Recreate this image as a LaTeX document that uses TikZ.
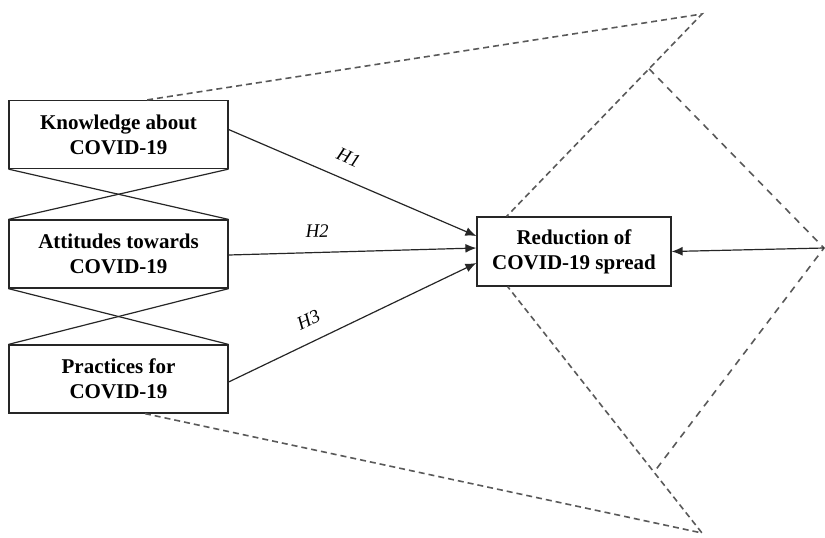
\documentclass[tikz,border=0pt]{standalone}
\usepackage{fontspec}
\setmainfont{Liberation Serif}
\usepackage{tikz}
\usetikzlibrary{positioning,arrows.meta,calc}
\definecolor{frame}{gray}{0.15}
\definecolor{dash}{gray}{0.35}

\begin{document}
\begin{tikzpicture}[x=0.5pt, y=-0.5pt,
  box/.style={draw=frame, semithick, align=center, font=\bfseries\fontsize{10.5}{12.5}\selectfont, minimum width=109.5pt, minimum height=34pt, inner sep=0pt},
  path/.style={draw=frame, semithick, -{Latex[length=5.5pt, width=4.5pt]}},
  hyp/.style={font=\itshape\fontsize{9.5}{11}\selectfont, above=4pt, sloped},
  outline/.style={draw=dash, line width=0.8pt, dash pattern=on 3pt off 2pt},
  outer/.style={draw=dash, line width=0.8pt, dash pattern=on 3.5pt off 3pt}]
  \useasboundingbox (0,0) rectangle (825,537);
  % constructs
  \node[box] (know) at (118.5,134.5) {Knowledge about\\COVID-19};
  \node[box] (att) at (118.5,254) {Attitudes towards\\COVID-19};
  \node[box] (prac) at (118.5,379) {Practices for\\COVID-19};
  \node[box, minimum width=97pt, minimum height=34.5pt] (red) at (574,251.5) {Reduction of\\COVID-19 spread};
  % crossings between constructs
  \draw[frame, semithick] (know.south west) -- (att.north east);
  \draw[frame, semithick] (know.south east) -- (att.north west);
  \draw[frame, semithick] (att.south west) -- (prac.north east);
  \draw[frame, semithick] (att.south east) -- (prac.north west);
  % hypotheses
  \draw[path] ([yshift=2.5pt]know.east) -- node[hyp, pos=0.45] {H1} ([yshift=7.75pt]red.west);
  \draw[path] ([yshift=-0.5pt]att.east) -- node[hyp, pos=0.36] {H2} ([yshift=1.75pt]red.west);
  \draw[path] ([yshift=-1.5pt]prac.east) -- node[hyp, pos=0.36] {H3} ([yshift=-5.75pt]red.west);
  % dashed outline
  \coordinate (topapex) at (702,14);
  \coordinate (botapex) at (702,533);
  \coordinate (redtop) at ($(red.north west)!0.155!(red.north east)$);
  \coordinate (redbot) at ($(red.south west)!0.16!(red.south east)$);
  \draw[outline] ($(know.north west)!0.63!(know.north east)$) -- (topapex) -- (redtop);
  \draw[outline] ($(prac.south west)!0.62!(prac.south east)$) -- (botapex) -- (redbot);
  % outer wedge
  \coordinate (wtop) at ($(topapex)!0.271!(redtop)$);
  \coordinate (wbot) at ($(botapex)!0.247!(redbot)$);
  \coordinate (rtip) at (824,248);
  \draw[outer] (wtop) -- (rtip) -- (wbot);
  \draw[path] (rtip) -- (red.east);
\end{tikzpicture}
\end{document}
